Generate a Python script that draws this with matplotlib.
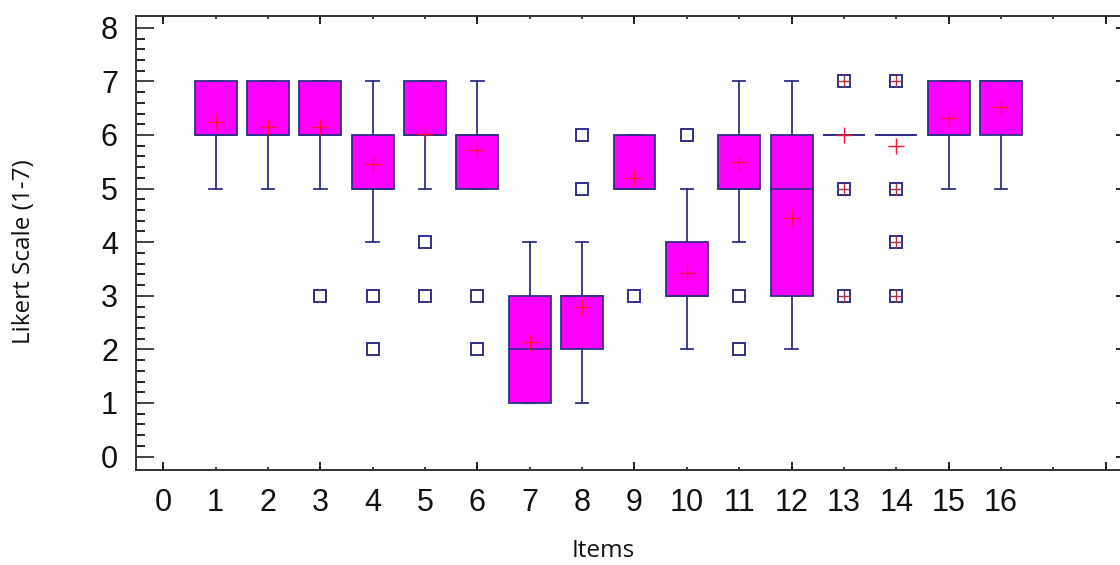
import matplotlib.pyplot as plt
import numpy as np

# Likert box plot data per item
items = list(range(1, 17))
q1 = [6, 6, 6, 5, 6, 5, 1, 2, 5, 3, 5, 3, 6, 6, 6, 6]
medians = [6, 6, 6, 5, 6, 6, 2, 3, 5, 3, 5, 5, 6, 6, 6, 7]
q3 = [7, 7, 7, 6, 7, 6, 3, 3, 6, 4, 6, 6, 6, 6, 7, 7]
whis_lo = [5, 5, 5, 4, 5, 5, 1, 1, 5, 2, 4, 2, 6, 6, 5, 5]
whis_hi = [7, 7, 7, 7, 7, 7, 4, 4, 6, 5, 7, 7, 6, 6, 7, 7]
means = [6.24, 6.14, 6.14, 5.45, 6.02, 5.72, 2.13, 2.80, 5.20, 3.43,
         5.50, 4.45, 6.00, 5.80, 6.31, 6.53]

# outside points (open squares) and far outside points (square with plus)
outliers = {3: [3], 4: [3, 2], 5: [4, 3], 6: [3, 2], 8: [6, 5],
            9: [3], 10: [6], 11: [3, 2]}
far_outliers = {13: [7, 5, 3], 14: [7, 5, 4, 3]}

x_labels = [str(i) for i in range(0, 17)] + ["", ""]

navy = "#30308A"
magenta = "#FF00FF"

fig = plt.figure(figsize=(11.2, 5.65), dpi=100)
ax = fig.add_axes([136 / 1120, 1 - 470 / 565, (1123 - 136) / 1120, (470 - 16) / 565])

stats = []
for i, it in enumerate(items):
    stats.append({
        "med": medians[i], "q1": q1[i], "q3": q3[i],
        "whislo": whis_lo[i], "whishi": whis_hi[i],
        "mean": means[i], "fliers": outliers.get(it, []),
    })

ax.bxp(stats, positions=items, widths=0.8, capwidths=0.24, patch_artist=True,
       showmeans=True, showfliers=True,
       boxprops=dict(facecolor=magenta, edgecolor=navy, linewidth=1.3),
       medianprops=dict(color=navy, linewidth=1.3),
       whiskerprops=dict(color=navy, linewidth=1.3),
       capprops=dict(color=navy, linewidth=1.3),
       meanprops=dict(marker="+", markeredgecolor="#FF1030", markersize=11,
                      markeredgewidth=1.0),
       flierprops=dict(marker="s", markerfacecolor="none", markeredgecolor=navy,
                       markersize=9, markeredgewidth=1.4))

for it, vals in far_outliers.items():
    xs = [it] * len(vals)
    ax.plot(xs, vals, linestyle="none", marker="s", markerfacecolor="none",
            markeredgecolor=navy, markersize=9, markeredgewidth=1.4)
    ax.plot(xs, vals, linestyle="none", marker="+", markeredgecolor="#B03048",
            markersize=9, markeredgewidth=1.0)

ax.set_xlim(-0.52, 18.33)
ax.set_ylim(-0.25, 8.22)

# x ticks: every integer short, every 3 long
ax.set_xticks(range(0, 19))
ax.set_xticklabels(x_labels)
ax.set_xticks(range(0, 19, 3), minor=True)
ax.xaxis.remove_overlapping_locs = False
ax.set_yticks(range(0, 9))
ax.set_yticks(np.arange(0, 8.01, 0.2), minor=True)

ax.tick_params(axis="x", which="major", direction="in", length=2.5, width=1.2,
               top=True, bottom=True, labelsize=22, pad=13, colors="#222222")
ax.tick_params(axis="x", which="minor", direction="in", length=6, width=1.2,
               top=True, bottom=True)
ax.tick_params(axis="y", which="major", direction="in", length=13, width=1.2,
               left=True, right=False, labelsize=22, pad=13, colors="#222222")
ax.tick_params(axis="y", which="minor", direction="in", length=6.5, width=1.2,
               left=True, right=False)

for lab in ax.get_xticklabels() + ax.get_yticklabels():
    lab.set_family("Liberation Sans")
    lab.set_color("#111111")

# right side: integer ticks only
ax2 = ax.twinx()
ax2.set_ylim(ax.get_ylim())
ax2.set_yticks(range(0, 9))
ax2.tick_params(axis="y", direction="in", length=5, width=1.2, labelright=False)
for a in (ax, ax2):
    for s in a.spines.values():
        s.set_color("#333333")
        s.set_linewidth(1.2)

fig.text(603 / 1120, 1 - 551 / 565, "Items", ha="center", va="center",
         fontsize=17.5, family="Open Sans", color="#111111")
fig.text(24 / 1120, 1 - 252 / 565, "Likert Scale (1-7)", ha="center", va="center",
         rotation=90, fontsize=17.5, family="Open Sans", color="#111111")

fig.savefig("out.png", dpi=100)
